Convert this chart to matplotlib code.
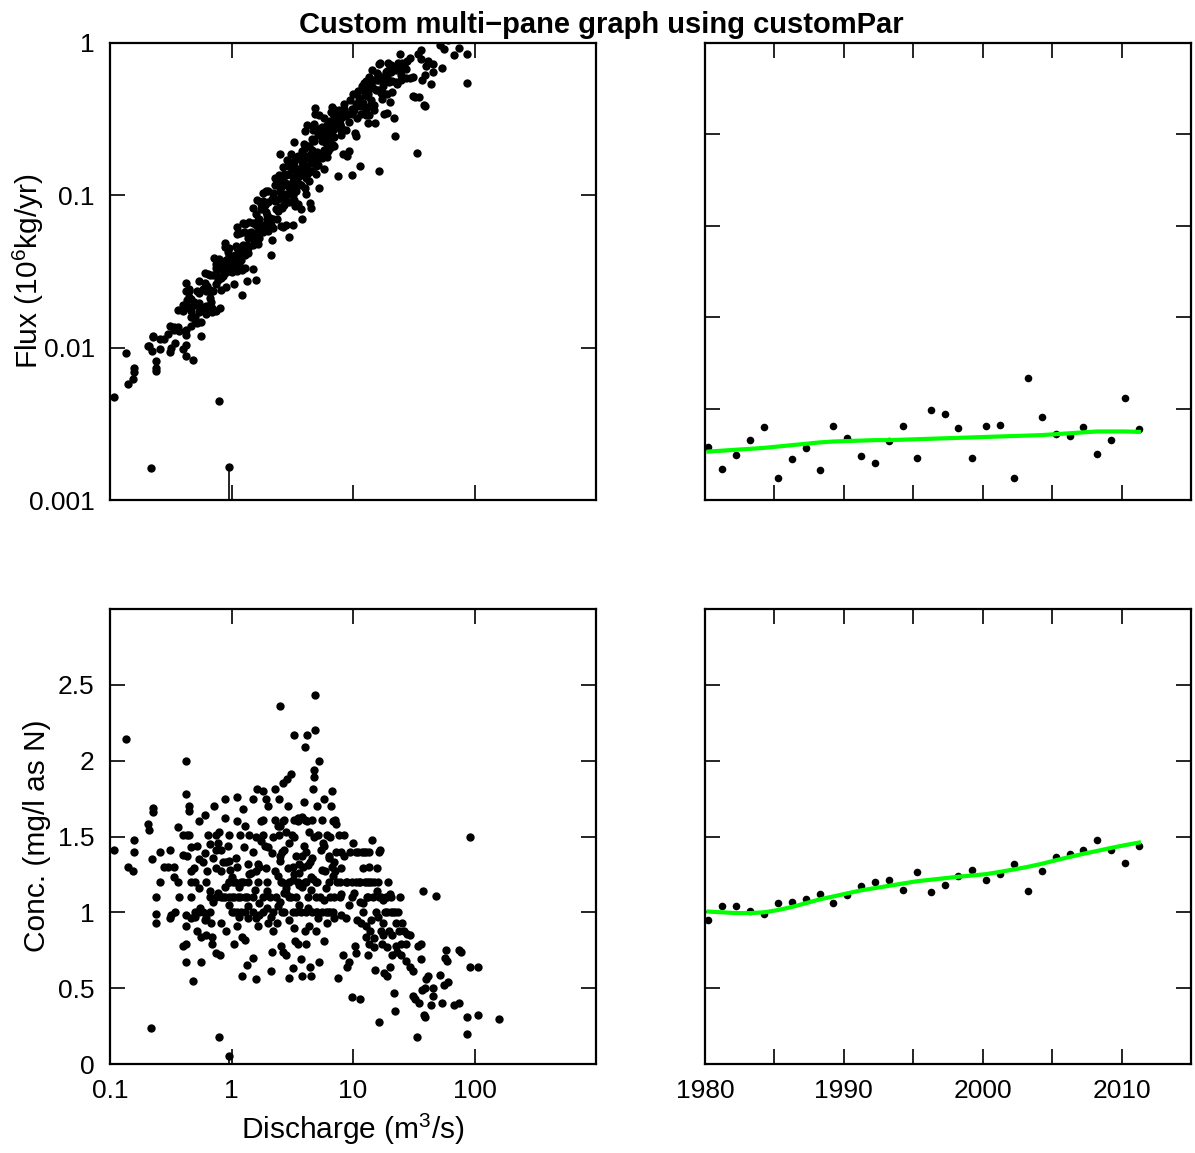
import numpy as np
import matplotlib.pyplot as plt

plt.rcParams['font.family'] = ['Liberation Sans', 'DejaVu Sans']
plt.rcParams['mathtext.fontset'] = 'custom'
plt.rcParams['mathtext.rm'] = 'Liberation Sans'

# daily samples: discharge (m3/s) and concentration (mg/l as N)
sample_q = [
    0.107, 0.136, 0.14, 0.157, 0.157, 0.155, 0.205, 0.21, 0.225, 0.224,
    0.222, 0.218, 0.237, 0.237, 0.24, 0.257, 0.257, 0.276, 0.31, 0.31,
    0.32, 0.335, 0.335, 0.34, 0.36, 0.36, 0.37, 0.40, 0.40, 0.40,
    0.42, 0.42, 0.42, 0.43, 0.43, 0.42, 0.42, 0.42, 0.45, 0.45,
    0.45, 0.46, 0.46, 0.46, 0.46, 0.46, 0.48, 0.49, 0.50, 0.50,
    0.52, 0.54, 0.54, 0.54, 0.54, 0.56, 0.56, 0.58, 0.60, 0.61,
    0.62, 0.62, 0.62, 0.64, 0.66, 0.66, 0.67, 0.67, 0.68, 0.69,
    0.69, 0.72, 0.74, 0.75, 0.75, 0.75, 0.75, 0.79, 0.79, 0.80,
    0.82, 0.82, 0.82, 0.82, 0.88, 0.89, 0.89, 0.89, 0.90, 0.95,
    0.95, 0.96, 0.96, 0.96, 1.03, 1.05, 1.05, 1.05, 1.11, 1.11,
    1.13, 1.11, 1.11, 1.18, 1.20, 1.22, 1.22, 1.25, 1.27, 1.29,
    1.29, 1.29, 1.33, 1.36, 1.38, 1.38, 1.40, 1.49, 1.49, 1.49,
    1.49, 1.49, 1.58, 1.62, 1.66, 1.66, 1.66, 1.80, 1.80, 1.83,
    1.83, 1.83, 1.92, 1.92, 1.96, 2.00, 2.00, 2.06, 2.10, 2.15,
    2.17, 2.20, 2.26, 2.30, 2.30, 2.33, 2.37, 2.45, 2.45, 2.50,
    2.50, 2.55, 2.55, 2.64, 2.64, 2.70, 2.73, 2.73, 2.80, 2.86,
    2.90, 2.93, 2.96, 2.96, 3.00, 3.10, 3.13, 3.20, 3.20, 3.25,
    3.30, 3.35, 3.40, 3.40, 3.50, 3.55, 3.60, 3.70, 3.75, 3.80,
    3.95, 3.95, 4.00, 4.00, 4.00, 4.02, 4.10, 4.20, 4.25, 4.25,
    4.35, 4.35, 4.40, 4.50, 4.60, 4.70, 4.70, 4.80, 4.80, 4.85,
    4.90, 4.95, 4.95, 5.05, 5.10, 5.20, 5.30, 5.30, 5.40, 5.50,
    5.55, 5.80, 5.80, 5.90, 6.00, 6.10, 6.30, 6.40, 6.50, 6.60,
    6.70, 6.80, 6.95, 7.10, 7.30, 7.40, 7.50, 7.60, 7.80, 7.90,
    8.20, 8.40, 8.50, 8.70, 8.80, 9.00, 9.30, 9.50, 9.80, 9.80,
    9.80, 10.0, 10.2, 10.4, 10.6, 11.0, 11.2, 11.4, 11.6, 11.8,
    12.1, 12.2, 12.7, 12.7, 13.0, 13.2, 13.4, 13.6, 13.9, 14.1,
    14.3, 14.6, 14.9, 15.3, 15.5, 15.7, 16.2, 16.4, 16.7, 16.9,
    17.0, 17.3, 17.7, 18.0, 18.2, 18.6, 18.9, 19.5, 19.9, 20.2,
    20.6, 21.0, 21.4, 21.8, 22.2, 22.6, 23.2, 23.5, 23.9, 24.3,
    24.8, 25.3, 26.2, 27.1, 28.0, 29.2, 29.6, 30.9, 31.4, 32.6,
    33.4, 34.4, 35.1, 36.0, 36.3, 36.8, 37.5, 38.6, 39.0, 39.5,
    40.1, 41.6, 43.5, 45.2, 45.8, 47.8, 52.4, 54.2, 56.0, 56.8,
    58.0, 59.0, 61.0, 68.0, 74.0, 75.0, 78.0, 86.0, 86.0, 92.5,
    92.5, 107.0, 107.0, 158.0,
    # near the 0.1 mg/l reporting grid
    0.95, 1.0, 1.07, 1.15, 1.25, 1.4, 1.55, 2.4, 2.6, 2.8,
    3.0, 3.3, 3.5, 3.8, 4.1, 4.5, 5.0, 6.0, 6.9, 7.8,
    9.0, 10.5, 11.5, 12.5, 13.5, 15.0,
    0.7, 0.78, 0.85, 1.0, 1.18, 1.35, 1.7, 1.95, 2.5, 2.8,
    3.1, 3.6, 4.5, 5.0, 5.8, 7.0, 8.0, 12.0, 13.0, 15.8,
    16.5, 17.5, 19.0, 20.0,
    0.5, 0.55, 0.6, 1.0, 1.2, 1.38, 1.6, 1.95, 2.1, 2.4,
    2.6, 3.2, 3.4, 4.1, 4.6, 5.1, 5.6, 6.2, 6.5, 19.0,
    20.5, 22.0,
    0.3, 0.9, 1.1, 1.6, 1.7, 2.5, 3.2, 3.6, 3.9, 4.4,
    6.7, 7.1, 13.5,
    2.0, 2.6, 3.8, 4.1, 5.8, 6.3, 8.0, 10.5, 12.4, 13.5,
    16.5,
    1.6, 1.75, 2.2, 2.8, 3.3, 4.8, 5.7, 6.5,
    1.75, 2.5, 2.65, 3.5, 3.8, 4.2, 6.8, 7.2,
    # extra samples in the dense middle
    0.52, 0.58, 0.63, 0.70, 0.77, 0.85, 0.93, 0.98, 1.08, 1.15,
    1.3, 1.45, 1.7, 1.9, 2.2, 2.4, 2.7, 3.0, 3.3, 3.6,
    4.3, 4.6, 5.2, 5.6, 6.1, 7.0, 8.0, 9.2, 10.8, 11.5,
    12.8, 14.0, 15.0, 16.0, 17.5, 19.0, 21.0, 22.5, 25.0, 27.5,
]
sample_conc = [
    1.41, 2.14, 1.30, 1.40, 1.48, 1.27, 1.58, 1.54, 1.69, 1.66,
    1.35, 0.235, 1.10, 0.99, 0.93, 1.40, 1.20, 1.30, 1.41, 0.96,
    0.98, 1.30, 1.23, 1.00, 1.56, 1.20, 1.10, 1.38, 1.51, 0.78,
    0.79, 2.00, 1.78, 1.51, 1.37, 0.98, 0.91, 0.67, 1.70, 1.67,
    1.51, 1.43, 1.27, 1.20, 1.10, 0.96, 0.55, 1.29, 1.20, 1.00,
    0.88, 1.60, 1.35, 1.16, 1.00, 0.84, 0.67, 1.00, 1.64, 1.39,
    1.20, 0.96, 0.85, 1.51, 1.45, 1.14, 1.10, 1.00, 0.93, 0.84,
    0.79, 1.70, 1.51, 1.41, 1.29, 1.10, 0.73, 1.53, 0.18, 0.72,
    1.41, 1.27, 1.10, 0.93, 1.75, 1.62, 1.17, 1.10, 0.88, 1.51,
    1.34, 1.20, 1.10, 1.05, 1.20, 1.10, 1.00, 0.79, 1.76, 1.60,
    1.10, 1.00, 0.91, 1.51, 1.20, 0.58, 0.84, 1.68, 1.43, 1.10,
    1.00, 0.82, 0.65, 1.32, 1.20, 0.96, 1.51, 1.75, 1.40, 1.10,
    1.00, 0.70, 0.56, 1.81, 1.32, 1.20, 0.91, 1.61, 1.51, 1.80,
    1.10, 1.00, 1.75, 1.29, 1.20, 1.70, 0.93, 1.10, 0.61, 1.39,
    0.74, 1.00, 1.81, 1.61, 1.27, 1.10, 0.93, 1.75, 1.51, 2.36,
    1.37, 1.20, 0.78, 1.85, 0.74, 1.61, 1.41, 1.00, 0.72, 1.88,
    1.70, 1.29, 1.10, 0.57, 0.95, 1.91, 1.51, 1.21, 0.63, 2.17,
    1.61, 0.81, 1.37, 1.10, 0.79, 1.62, 1.32, 1.00, 0.69, 0.58,
    1.73, 1.44, 1.61, 1.20, 0.88, 2.09, 0.79, 2.17, 1.10, 1.31,
    1.53, 0.91, 0.64, 0.58, 1.61, 1.81, 1.22, 1.89, 1.94, 2.43,
    2.20, 1.00, 0.88, 1.70, 1.20, 1.51, 2.00, 0.67, 1.10, 1.41,
    1.61, 1.75, 0.81, 1.27, 1.00, 1.51, 1.37, 1.20, 1.10, 1.70,
    1.80, 1.00, 0.96, 1.61, 1.40, 1.20, 0.57, 1.51, 1.10, 1.29,
    0.72, 1.51, 1.37, 1.20, 0.96, 0.64, 0.67, 1.40, 1.10, 1.20,
    0.44, 1.46, 1.13, 0.78, 0.73, 1.40, 1.20, 0.43, 0.93, 1.40,
    1.29, 1.00, 1.40, 0.84, 1.20, 0.72, 1.10, 0.79, 0.88, 1.20,
    1.48, 1.10, 0.77, 0.62, 1.00, 1.29, 1.20, 0.28, 1.41, 0.88,
    1.10, 0.79, 0.93, 0.60, 1.00, 1.10, 0.58, 1.20, 0.88, 0.64,
    1.10, 0.72, 1.00, 0.47, 0.35, 0.93, 0.74, 1.00, 0.88, 1.10,
    0.79, 0.93, 0.88, 0.79, 0.86, 0.64, 0.85, 0.61, 0.45, 0.43,
    0.18, 0.78, 0.40, 0.69, 0.79, 0.49, 1.14, 0.32, 0.50, 0.31,
    0.56, 0.58, 0.39, 0.45, 0.50, 1.11, 0.59, 0.40, 0.52, 0.70,
    0.75, 0.68, 0.54, 0.39, 0.40, 0.75, 0.74, 0.31, 0.20, 1.50,
    0.64, 0.64, 0.32, 0.30,
    1.2, 1.23, 1.2, 1.17, 1.2, 1.25, 1.15, 1.24, 1.2, 1.16,
    1.2, 1.25, 1.2, 1.17, 1.2, 1.23, 1.2, 1.16, 1.24, 1.2,
    1.2, 1.2, 1.2, 1.2, 1.2, 1.2,
    1.07, 1.13, 1.1, 1.1, 1.1, 1.1, 1.06, 1.14, 1.07, 1.13,
    1.1, 1.05, 1.15, 1.1, 1.08, 1.1, 1.12, 1.06, 1.1, 1.14,
    1.1, 1.08, 1.1, 1.12,
    0.97, 1.03, 0.95, 1.0, 1.0, 1.04, 0.96, 1.03, 0.97, 1.04,
    1.0, 1.0, 1.0, 1.0, 1.0, 1.0, 1.0, 1.0, 1.0, 1.0,
    1.0, 1.0,
    1.3, 1.33, 1.3, 1.27, 1.3, 1.34, 1.3, 1.26, 1.3, 1.33,
    1.3, 1.27, 1.3,
    1.43, 1.4, 1.37, 1.4, 1.44, 1.36, 1.4, 1.4, 1.4, 1.4,
    1.4,
    1.5, 1.47, 1.5, 1.53, 1.5, 1.5, 1.46, 1.5,
    1.6, 1.57, 1.6, 1.6, 1.63, 1.6, 1.6, 1.58,
    1.44, 1.33, 1.27, 1.36, 1.46, 1.33, 1.44, 1.28, 1.36, 0.97,
    1.57, 1.26, 0.98, 1.44, 0.88, 1.57, 1.13, 1.46, 0.90, 1.18,
    1.03, 1.36, 0.96, 1.28, 0.93, 1.33, 0.98, 1.05, 0.95, 1.07,
    0.91, 0.95, 0.83, 0.97, 0.85, 0.77, 0.85, 0.78, 0.72, 0.68,
]

# one censored (less-than) sample
censored_q = [0.945]
censored_conc = [0.055]

# annual results
dec_year = [1980.25, 1981.25, 1982.25, 1983.25, 1984.25, 1985.25, 1986.25, 1987.25,
            1988.25, 1989.25, 1990.25, 1991.25, 1992.25, 1993.25, 1994.25, 1995.25,
            1996.25, 1997.25, 1998.25, 1999.25, 2000.25, 2001.25, 2002.25, 2003.25,
            2004.25, 2005.25, 2006.25, 2007.25, 2008.25, 2009.25, 2010.25, 2011.25]
annual_flux = [0.116, 0.067, 0.098, 0.132, 0.159, 0.048, 0.089, 0.113, 0.065, 0.163,
               0.135, 0.097, 0.080, 0.130, 0.163, 0.092, 0.197, 0.188, 0.158, 0.091,
               0.161, 0.164, 0.048, 0.266, 0.182, 0.144, 0.139, 0.159, 0.100, 0.132,
               0.223, 0.155]
fn_flux = [0.106, 0.108, 0.110, 0.112, 0.114, 0.117, 0.120, 0.123, 0.126, 0.128,
           0.129, 0.130, 0.131, 0.131, 0.132, 0.133, 0.134, 0.135, 0.136, 0.137,
           0.138, 0.139, 0.140, 0.141, 0.142, 0.144, 0.146, 0.148, 0.150, 0.150,
           0.150, 0.149]
annual_conc = [0.95, 1.04, 1.04, 1.01, 0.99, 1.06, 1.065, 1.085, 1.12, 1.06,
               1.115, 1.175, 1.20, 1.215, 1.145, 1.265, 1.135, 1.18, 1.24, 1.28,
               1.215, 1.25, 1.32, 1.14, 1.275, 1.365, 1.385, 1.41, 1.48, 1.41,
               1.325, 1.44]
fn_conc = [1.005, 1.0, 0.995, 0.995, 1.0, 1.015, 1.035, 1.06, 1.085, 1.105,
           1.125, 1.145, 1.16, 1.175, 1.19, 1.205, 1.215, 1.225, 1.235, 1.243,
           1.252, 1.267, 1.283, 1.30, 1.32, 1.343, 1.365, 1.386, 1.405, 1.425,
           1.443, 1.46]

# mg/l * m3/s -> 10^6 kg/yr
FLUX_FACTOR = 86.4 * 365.25 / 1e6
sample_flux = np.array(sample_q) * np.array(sample_conc) * FLUX_FACTOR
censored_flux = np.array(censored_q) * np.array(censored_conc) * FLUX_FACTOR

W, H = 1195, 1153
fig = plt.figure(figsize=(W / 100, H / 100), dpi=100)


def panel(x0, y0, x1, y1):
    ax = fig.add_axes([x0 / W, 1 - y1 / H, (x1 - x0) / W, (y1 - y0) / H])
    for s in ax.spines.values():
        s.set_linewidth(1.6)
    ax.tick_params(direction='in', length=11, width=1.2, top=True, right=True,
                   labelsize=19, pad=11, colors='black')
    ax.minorticks_off()
    return ax


ax_fq = panel(110, 43, 596, 500)
ax_ft = panel(705, 43, 1191, 500)
ax_cq = panel(110, 609, 596, 1064)
ax_ct = panel(705, 609, 1191, 1064)

dot = dict(color='black', s=36, linewidths=0)
small_dot = dict(color='black', s=30, linewidths=0)

# flux vs discharge
ax_fq.scatter(sample_q, sample_flux, **dot)
ax_fq.scatter(censored_q, censored_flux, **dot)
ax_fq.vlines(censored_q, 0.001, censored_flux, color='black', lw=1.2)
ax_fq.set_xscale('log')
ax_fq.set_yscale('log')
ax_fq.set_xlim(0.1, 1000)
ax_fq.set_ylim(0.001, 1)
ax_fq.set_xticks([1, 10, 100])
ax_fq.set_yticks([0.001, 0.01, 0.1, 1])
ax_fq.set_yticklabels(['0.001', '0.01', '0.1', '1'])
ax_fq.minorticks_off()
ax_fq.tick_params(labelbottom=False)

# concentration vs discharge
ax_cq.scatter(sample_q, sample_conc, **dot)
ax_cq.scatter(censored_q, censored_conc, **dot)
ax_cq.vlines(censored_q, 0, censored_conc, color='black', lw=1.2)
ax_cq.set_xscale('log')
ax_cq.set_xlim(0.1, 1000)
ax_cq.set_ylim(0, 3)
ax_cq.set_xticks([0.1, 1, 10, 100])
ax_cq.set_xticklabels(['0.1', '1', '10', '100'])
ax_cq.set_yticks([0, 0.5, 1, 1.5, 2, 2.5])
ax_cq.set_yticklabels(['0', '0.5', '1', '1.5', '2', '2.5'])
ax_cq.minorticks_off()

year_ticks = [1980, 1985, 1990, 1995, 2000, 2005, 2010, 2015]
year_labels = ['1980', '', '1990', '', '2000', '', '2010', '']

# annual flux history
ax_ft.scatter(dec_year, annual_flux, **small_dot)
ax_ft.plot(dec_year, fn_flux, color='#00ff00', lw=3)
ax_ft.set_xlim(1980, 2015)
ax_ft.set_ylim(0, 1)
ax_ft.set_xticks(year_ticks)
ax_ft.set_yticks([0, 0.2, 0.4, 0.6, 0.8, 1.0])
ax_ft.tick_params(labelbottom=False, labelleft=False)

# annual concentration history
ax_ct.scatter(dec_year, annual_conc, **small_dot)
ax_ct.plot(dec_year, fn_conc, color='#00ff00', lw=3)
ax_ct.set_xlim(1980, 2015)
ax_ct.set_ylim(0, 3)
ax_ct.set_xticks(year_ticks)
ax_ct.set_xticklabels(year_labels)
ax_ct.set_yticks([0, 0.5, 1, 1.5, 2, 2.5])
ax_ct.tick_params(labelleft=False)

fig.text(601 / W, 1 - 33 / H, 'Custom multi\u2212pane graph using customPar',
         ha='center', va='baseline', fontsize=21, fontweight='bold')
fig.text(38 / W, 1 - 271 / H, 'Flux (10$\\mathregular{^6}$kg/yr)', rotation=90,
         rotation_mode='anchor', ha='center', va='baseline', fontsize=21.5)
fig.text(45 / W, 1 - 836 / H, 'Conc. (mg/l as N)', rotation=90,
         rotation_mode='anchor', ha='center', va='baseline', fontsize=21.5)
fig.text(353 / W, 1 - 1139 / H, 'Discharge (m$\\mathregular{^3}$/s)',
         ha='center', va='baseline', fontsize=21.5)

fig.savefig('out.png', dpi=100)
